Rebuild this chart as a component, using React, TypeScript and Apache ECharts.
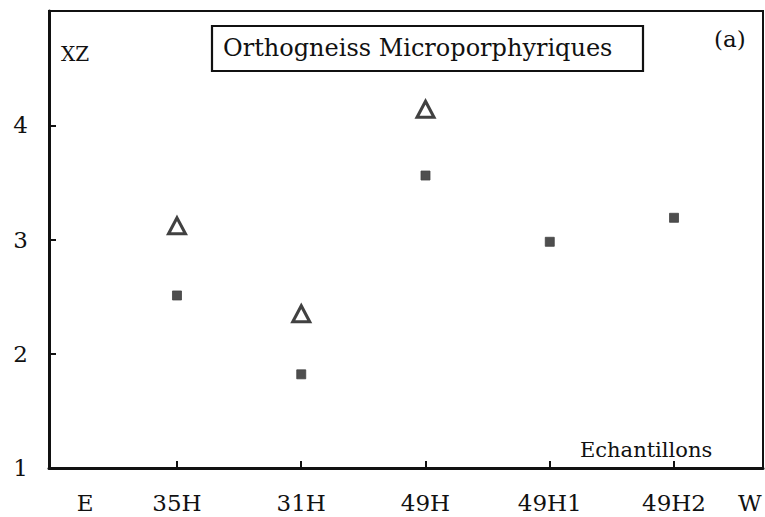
import React, { useEffect, useRef } from "react";
import * as echarts from "echarts";

const categories = ["35H", "31H", "49H", "49H1", "49H2"];
const triangleValues: (number | null)[] = [3.12, 2.35, 4.14, null, null];
const squareValues: (number | null)[] = [2.51, 1.82, 3.56, 2.98, 3.19];
const yTickLabels = [1, 2, 3, 4];
const edgeLabels = ["E", "W"];
const title = "Orthogneiss Microporphyriques";

const FONT = "DejaVu Serif";

export default function App() {
  const ref = useRef<HTMLDivElement>(null);
  useEffect(() => {
    if (!ref.current) return;
    const chart = echarts.init(ref.current, undefined, { renderer: "svg" });
    const catPos = categories.map((_, i) => i + 1);
    const edgePos = [0.26, 5.61];
    const labelPos = [edgePos[0], ...catPos, edgePos[1]];
    const labelText = [edgeLabels[0], ...categories, edgeLabels[1]];
    const toPairs = (vals: (number | null)[]) =>
      vals
        .map((v, i) => (v == null ? null : [i + 1, v]))
        .filter((p) => p !== null);

    chart.setOption({
      animation: false,
      backgroundColor: "#ffffff",
      grid: {
        left: 49,
        top: 11,
        width: 714,
        height: 457,
        show: true,
        borderColor: "#111111",
        borderWidth: 2,
        containLabel: false,
      },
      xAxis: {
        type: "value",
        min: -0.03,
        max: 5.716,
        splitLine: { show: false },
        axisLine: { show: true, onZero: false, lineStyle: { color: "#111111", width: 3 } },
        axisTick: {
          show: true,
          inside: true,
          length: 7,
          customValues: catPos,
          lineStyle: { color: "#111111", width: 2 },
        },
        axisLabel: {
          customValues: labelPos,
          margin: 23,
          fontFamily: FONT,
          fontSize: 23,
          color: "#111111",
          formatter: (v: number) => {
            const idx = labelPos.findIndex((p) => Math.abs(p - v) < 1e-6);
            return idx >= 0 ? labelText[idx] : "";
          },
        },
      },
      yAxis: {
        type: "value",
        min: 1,
        max: 5,
        splitLine: { show: false },
        axisLine: { show: true, onZero: false, lineStyle: { color: "#111111", width: 3 } },
        axisTick: {
          show: true,
          inside: true,
          length: 7,
          customValues: [2, 3, 4],
          lineStyle: { color: "#111111", width: 2 },
        },
        axisLabel: {
          customValues: yTickLabels,
          margin: 21,
          fontFamily: FONT,
          fontSize: 23,
          color: "#111111",
        },
      },
      graphic: [
        {
          type: "rect",
          shape: { x: 212, y: 26, width: 431, height: 45 },
          style: { fill: "#ffffff", stroke: "#111111", lineWidth: 2.2 },
          z: 10,
        },
        {
          type: "text",
          x: 223,
          y: 48,
          style: {
            text: title,
            font: `24px "${FONT}"`,
            fill: "#111111",
            verticalAlign: "middle",
          },
          z: 11,
        },
        {
          type: "text",
          x: 61,
          y: 54,
          style: { text: "XZ", font: `20px "${FONT}"`, fill: "#111111", verticalAlign: "middle" },
          z: 11,
        },
        {
          type: "text",
          x: 714,
          y: 39,
          style: { text: "(a)", font: `23px "${FONT}"`, fill: "#111111", verticalAlign: "middle" },
          z: 11,
        },
        {
          type: "text",
          x: 580,
          y: 450,
          style: { text: "Echantillons", font: `21px "${FONT}"`, fill: "#111111", verticalAlign: "middle" },
          z: 11,
        },
      ],
      series: [
        {
          type: "scatter",
          name: "triangles",
          data: toPairs(triangleValues),
          symbol: "triangle",
          symbolSize: [17, 16],
          itemStyle: { color: "#ffffff", borderColor: "#111111", borderWidth: 3 },
          z: 5,
        },
        {
          type: "scatter",
          name: "squares",
          data: toPairs(squareValues),
          symbol: "rect",
          symbolSize: 9,
          itemStyle: { color: "#222222", borderColor: "#444444", borderWidth: 1 },
          z: 5,
        },
      ],
    });
    return () => chart.dispose();
  }, []);
  return (
    <div
      ref={ref}
      style={{ position: "fixed", left: 0, top: 0, width: 765, height: 517, background: "#fff" }}
    />
  );
}
